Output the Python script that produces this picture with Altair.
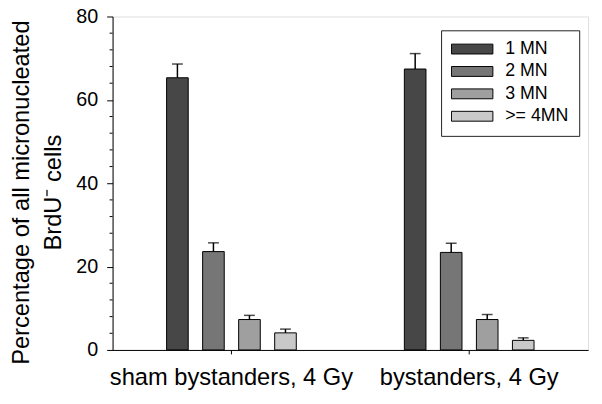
import altair as alt
import pandas as pd

groups = ["sham bystanders, 4 Gy", "bystanders, 4 Gy"]
categories = ["1 MN", "2 MN", "3 MN", ">= 4MN"]
colors = ["#474747", "#767676", "#9f9f9f", "#c9c9c9"]
sham_means = [65.3, 23.6, 7.3, 4.1]
sham_err = [3.3, 2.1, 1.0, 0.9]
byst_means = [67.4, 23.4, 7.3, 2.3]
byst_err = [3.7, 2.2, 1.2, 0.6]
major_ticks = [0, 20, 40, 60, 80]
minor_ticks = [4, 8, 12, 16, 24, 28, 32, 36, 44, 48, 52, 56, 64, 68, 72, 76]

rows = []
for g, means, errs in [(groups[0], sham_means, sham_err), (groups[1], byst_means, byst_err)]:
    for c, m, e in zip(categories, means, errs):
        rows.append({"group": g, "cat": c, "mean": m, "top": m + e})
df = pd.DataFrame(rows)

FONT = "Liberation Sans"
# empty slots on either side keep the four bars grouped near the band centre
offset_domain = ["_pad_l"] + categories + ["_pad_r"]

x = alt.X("group:N", sort=groups, title=None,
          scale=alt.Scale(paddingInner=0, paddingOuter=0),
          axis=alt.Axis(labelAngle=0, labelFontSize=24, labelFont=FONT, labelColor="#000",
                        labelLimit=0, tickSize=4, tickColor="#000", domainColor="#000",
                        labelPadding=12))
xo = alt.XOffset("cat:N",
                 scale=alt.Scale(domain=offset_domain, paddingInner=0.4, paddingOuter=0.5))
yscale = alt.Scale(domain=[0, 80], nice=False)

bars = alt.Chart(df).mark_bar(stroke="#000", strokeWidth=1).encode(
    x=x,
    xOffset=xo,
    y=alt.Y("mean:Q", scale=yscale,
            title=["Percentage of all micronucleated", "BrdU\u207b cells"],
            axis=alt.Axis(values=major_ticks, tickSize=6, labelOverlap=False,
                          labelFontSize=20, labelFont=FONT, labelColor="#000",
                          tickColor="#000", domainColor="#000", grid=False,
                          titleFontSize=24, titleFont=FONT, titleFontWeight="normal",
                          titleColor="#000", titleLineHeight=32, titleX=-80, titleY=178,
                          labelPadding=9)),
    color=alt.Color("cat:N", sort=categories,
                    scale=alt.Scale(domain=categories, range=colors),
                    legend=alt.Legend(title=None, orient="none", legendX=333, legendY=14,
                                      padding=10, strokeColor="#222", fillColor="#fff",
                                      labelFontSize=18, labelFont=FONT, labelColor="#000",
                                      symbolType="M-1,-0.238H1V0.238H-1Z", symbolSize=1764,
                                      symbolStrokeColor="#000", symbolStrokeWidth=1,
                                      symbolOpacity=1, clipHeight=18,
                                      labelOffset=12, rowPadding=4.7)),
)

rules = alt.Chart(df).mark_rule(color="#000", strokeWidth=1.5).encode(
    x=alt.X("group:N", sort=groups),
    xOffset=xo,
    y=alt.Y("mean:Q", scale=yscale),
    y2="top:Q",
)

caps = alt.Chart(df).mark_tick(color="#000", thickness=1.5, orient="horizontal").encode(
    x=alt.X("group:N", sort=groups),
    xOffset=xo,
    y=alt.Y("top:Q", scale=yscale),
    size=alt.value(11),
)

# minor tick marks on the y axis (short outward ticks every 4 units)
minor = alt.Chart(pd.DataFrame({"v": minor_ticks})).mark_rule(color="#000", strokeWidth=1).encode(
    y=alt.Y("v:Q", scale=yscale),
    x=alt.value(-3),
    x2=alt.value(0),
)

chart = alt.layer(bars, rules, caps, minor).properties(
    width=482, height=338,
    autosize=alt.AutoSizeParams(type="none"),
    padding={"left": 106, "top": 6, "right": 6, "bottom": 40},
).configure_view(stroke="#000", strokeWidth=1).configure(background="white")

chart.save("out.html", embed_options={"renderer": "svg", "actions": False})
